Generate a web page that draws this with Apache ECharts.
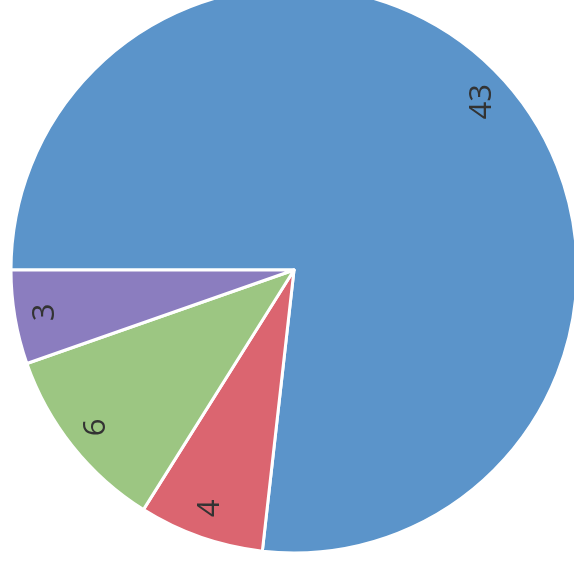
<!DOCTYPE html>
<html><head><meta charset="utf-8">
<script src="https://cdn.jsdelivr.net/npm/echarts@6/dist/echarts.min.js"></script>
<style>html,body{margin:0;padding:0;background:#fff}#c{width:574px;height:571px}</style>
</head><body><div id="c"></div>
<script>
const categories = ['A', 'B', 'C', 'D'];
const values = [43, 4, 6, 3];
const colors = ['#5b94ca', '#db6570', '#9cc682', '#8b7dbf'];

const data = categories.map((c, i) => ({ name: c, value: values[i], itemStyle: { color: colors[i] } }));
const labelData = categories.map((c, i) => ({ name: c, value: values[i] }));

const chart = echarts.init(document.getElementById('c'));
chart.setOption({
  backgroundColor: '#ffffff',
  animation: false,
  series: [
    {
      type: 'pie',
      center: [294, 270],
      radius: [0, 283],
      startAngle: 180,
      clockwise: true,
      data: data,
      label: { show: false },
      labelLine: { show: false },
      itemStyle: { borderColor: '#ffffff', borderWidth: 3 },
      emphasis: { disabled: true }
    },
    {
      type: 'pie',
      center: [294, 270],
      radius: [216, 283],
      startAngle: 180,
      clockwise: true,
      data: labelData,
      silent: true,
      itemStyle: { color: 'rgba(0,0,0,0)' },
      label: {
        show: true,
        position: 'inside',
        formatter: '{c}',
        rotate: 90,
        color: '#333333',
        fontSize: 31,
        fontWeight: 500,
        fontFamily: 'Open Sans'
      },
      labelLine: { show: false },
      emphasis: { disabled: true }
    }
  ]
});
</script></body></html>
